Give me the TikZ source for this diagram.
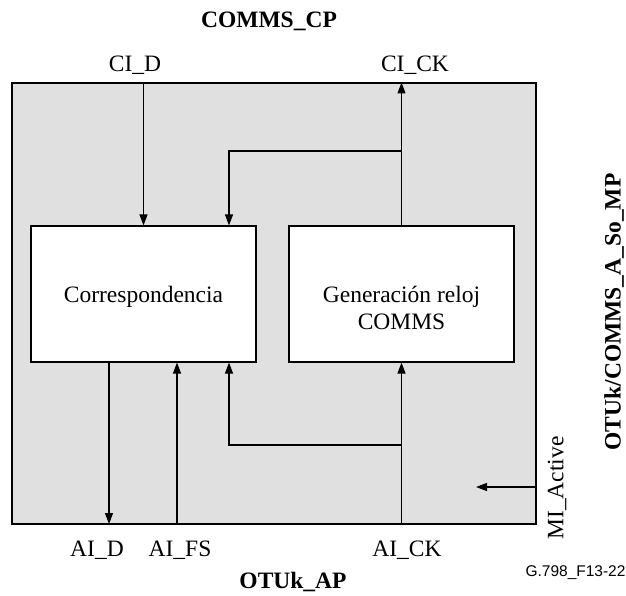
\documentclass[tikz,border=0pt]{standalone}
\usepackage{fontspec}
\setmainfont{Liberation Serif}
\newfontfamily\figsans{Liberation Sans}
\usetikzlibrary{arrows.meta}

\begin{document}
\begin{tikzpicture}[x=1pt, y=-1pt, >={Triangle[length=11pt,width=8pt]}, line width=1.1pt,
    lbl/.style={font=\fontsize{23.5}{27}\selectfont, inner sep=0pt},
    ttl/.style={font=\fontsize{23.5}{27}\selectfont\bfseries, inner sep=0pt},
    blk/.style={draw, fill=white, minimum width=225pt, minimum height=136pt, inner sep=0pt}]
    \useasboundingbox (0,0) rectangle (626,595);

    % function box and its two inner blocks
    \node[draw, fill=black!12, minimum width=524pt, minimum height=441pt, inner sep=0pt] (mod) at (274,303.5) {};
    \node[blk] (corr) at (143.5,294) {};
    \node[blk] (gen) at (401.5,294) {};
    \node[lbl] (corrtxt) at (143.5,297) {Correspondencia};
    \node[lbl, align=center] (gentxt) at (401.5,307.5) {Generación reloj\\COMMS};

    % points on the frame and bends
    \coordinate (fb1) at (229,151);
    \coordinate (fb2) at (229,445);
    \coordinate (aid) at (109,524);
    \coordinate (aifs) at (177,524);
    \coordinate (mia) at (536,487);
    \coordinate (mib) at (476,487);

    \draw[->] (corr.north |- mod.north) -- (corr.north);
    \draw[->] (gen.north) -- (gen.north |- mod.north);
    \draw[->] (gen.north |- fb1) -- (fb1) -- (fb1 |- corr.north);
    \draw[->] (aid |- corr.south) -- (aid);
    \draw[->] (aifs) -- (aifs |- corr.south);
    \draw[->] (gen.south |- mod.south) -- (gen.south);
    \draw[->] (gen.south |- fb2) -- (fb2) -- (fb2 |- corr.south);
    \draw[->] (mia) -- (mib);

    % labels
    \node[ttl] (cp) at (269,21) {COMMS\_CP};
    \node[lbl] (cid) at (135,65) {CI\_D};
    \node[lbl] (cick) at (415,65) {CI\_CK};
    \node[lbl] (aidl) at (97,550) {AI\_D};
    \node[lbl] (aifsl) at (180,550) {AI\_FS};
    \node[lbl] (aickl) at (407,550) {AI\_CK};
    \node[ttl] (ap) at (293,582) {OTUk\_AP};
    \node[lbl, rotate=90] (mil) at (557,488) {MI\_Active};
    \node[ttl, rotate=90] (mp) at (614,312) {OTUk/COMMS\_A\_So\_MP};
    \node[font=\figsans\fontsize{15.5}{18}\selectfont, inner sep=0pt] (fig) at (575.5,573) {G.798\_F13-22};
\end{tikzpicture}
\end{document}
